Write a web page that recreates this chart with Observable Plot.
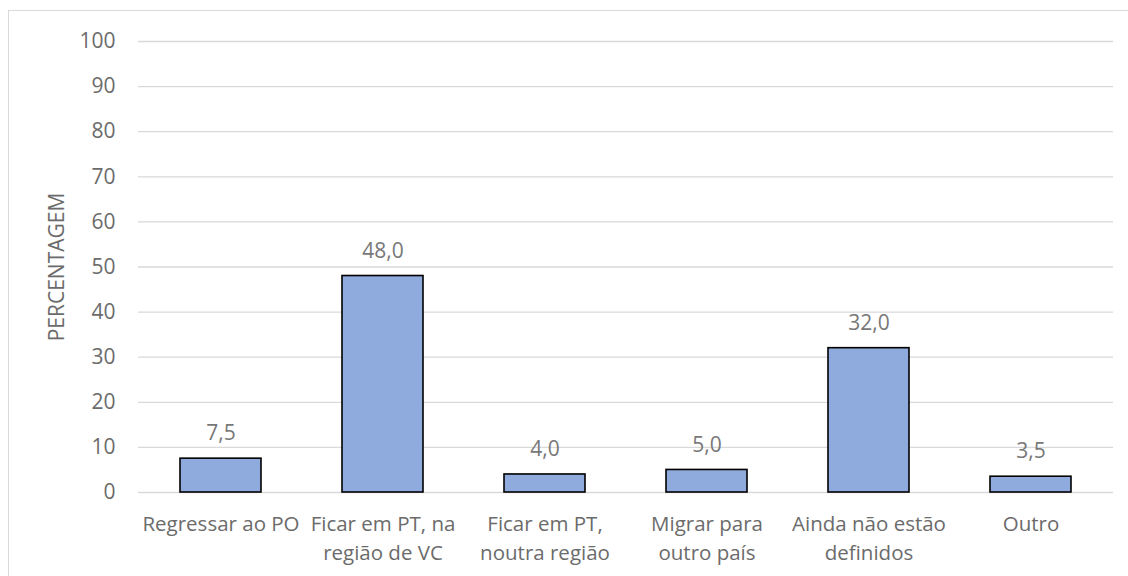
<!DOCTYPE html>
<html>
<head>
<meta charset="utf-8">
<script src="https://cdn.jsdelivr.net/npm/d3@7"></script>
<script src="https://cdn.jsdelivr.net/npm/@observablehq/plot@0.6"></script>
<style>
  html, body { margin: 0; padding: 0; background: #fff; overflow: hidden; }
  #wrap { position: relative; width: 1128px; height: 576px; }
  #frame { position: absolute; left: 8px; top: 10px; width: 1140px; height: 600px; border: 1px solid #d9d9d9; box-sizing: border-box; }
  #chart { position: absolute; left: 0; top: 0; }
</style>
</head>
<body>
<div id="wrap"><div id="frame"></div><div id="chart"></div></div>
<script>
const categories = [
  "Regressar ao PO",
  "Ficar em PT, na\nregião de VC",
  "Ficar em PT,\nnoutra região",
  "Migrar para\noutro país",
  "Ainda não estão\ndefinidos",
  "Outro"
];
const values = [7.5, 48.0, 4.0, 5.0, 32.0, 3.5];
const yTicks = [0, 10, 20, 30, 40, 50, 60, 70, 80, 90, 100];
const yLabel = "PERCENTAGEM";

const data = categories.map((c, i) => ({category: c, value: values[i]}));
const fmt = v => v.toFixed(1).replace(".", ",");

const chart = Plot.plot({
  width: 1128,
  height: 576,
  marginLeft: 138,
  marginRight: 15,
  marginTop: 41,
  marginBottom: 84,
  style: {fontFamily: "'Open Sans', sans-serif", background: "transparent"},
  x: {domain: categories, paddingInner: 0.5, paddingOuter: 0.25, label: null},
  y: {domain: [0, 100], label: null},
  marks: [
    Plot.gridY(yTicks, {stroke: "#d9d9d9", strokeOpacity: 1, strokeWidth: 1.3}),
    Plot.axisY(yTicks, {tickSize: 0, tickPadding: 23, fontSize: 21, fill: "#6b6b6b", label: null}),
    Plot.text([yLabel], {frameAnchor: "left", textAnchor: "middle", dx: -81, rotate: -90, fontSize: 21, fill: "#6b6b6b"}),
    Plot.barY(data, {x: "category", y: "value", fill: "#8faadc", stroke: "#000", strokeWidth: 1.6}),
    Plot.text(data, {x: "category", y: "value", text: d => fmt(d.value), dy: -25, fontSize: 21, fill: "#787878"}),
    Plot.axisX({tickSize: 0, tickPadding: 18, fontSize: 20.5, fill: "#6b6b6b", lineHeight: 1.4, label: null})
  ]
});
document.getElementById("chart").appendChild(chart);
</script>
</body>
</html>
